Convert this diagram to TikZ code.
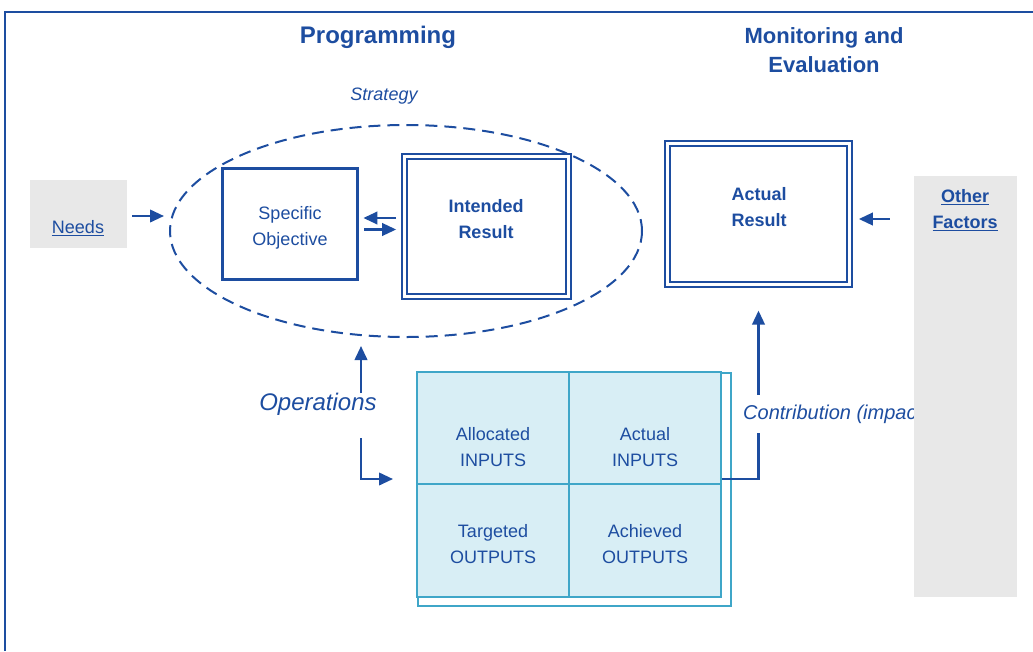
\documentclass[tikz,border=0pt]{standalone}
\usepackage{fontspec}
\setmainfont{Liberation Sans}
\usetikzlibrary{arrows.meta,shapes.geometric}
\definecolor{dblue}{HTML}{1D4DA0}
\definecolor{tblue}{HTML}{3FA6C8}
\definecolor{tfill}{HTML}{D8EEF5}
\definecolor{gfill}{HTML}{E8E8E8}
\begin{document}
\begin{tikzpicture}[x=1pt,y=-1pt,
  txt/.style={text=dblue, align=center, inner sep=0pt, font=\fontsize{18}{26}\selectfont},
  btxt/.style={txt, font=\fontsize{18}{26}\selectfont\bfseries},
  title/.style={txt, font=\fontsize{24}{29}\selectfont\bfseries},
  singlebox/.style={draw=dblue, line width=2.8pt, inner sep=0pt},
  doublebox/.style={draw=dblue, double=white, double distance=2.5pt, line width=2.2pt, inner sep=0pt},
  graybox/.style={fill=gfill, inner sep=0pt},
  cell/.style={draw=tblue, line width=1.2pt, fill=tfill, minimum width=152, inner sep=0pt},
  arr/.style={draw=dblue, line width=2.3pt, -{Triangle[length=14pt,width=12.5pt]}},
]
\useasboundingbox (0,0) rectangle (1033,651);
% frame
\draw[dblue, line width=2pt] (5,651) -- (5,12) -- (1033,12);
% titles
\node[title] (prog) at (378,37) {Programming};
\node[title, font=\fontsize{22}{29}\selectfont\bfseries] (mon) at (824,50.5) {Monitoring and\\Evaluation};
\node[txt, font=\fontsize{18}{22}\selectfont\itshape] (strat) at (384,96) {Strategy};
% strategy ellipse
\node[ellipse, draw=dblue, line width=2pt, dash pattern=on 12pt off 7pt,
      minimum width=472, minimum height=212, inner sep=0pt] (ell) at (406,231) {};
% needs
\node[graybox, minimum width=97, minimum height=68] (needsbox) at (78.5,214) {};
\node[txt] (needs) at (78,228) {\underline{Needs}};
% specific objective
\node[singlebox, fill=white, minimum width=135.5, minimum height=111.5] (so) at (290,224) {};
\node[txt] (sot) at (290,228) {Specific\\Objective};
% intended result
\node[doublebox, minimum width=164, minimum height=140] (ir) at (486.5,226.5) {};
\node[btxt] (irt) at (486,219.5) {Intended\\Result};
% actual result
\node[doublebox, minimum width=182, minimum height=141] (ar) at (758.5,214) {};
\node[btxt] (art) at (759,207) {Actual\\Result};
% arrows top row
\draw[arr, shorten >=5pt] ([shift={(5pt,-2pt)}]needsbox.east) -- ([yshift=-2pt]needsbox.east -| ell.west);
\draw[arr, shorten <=7.25pt, shorten >=4.25pt] ([yshift=8.5pt]ir.west) -- ([yshift=8.5pt]ir.west -| so.east);
\draw[arr, shorten <=5.25pt, shorten >=7.25pt] ([yshift=-5.5pt]so.east) -- ([yshift=-5.5pt]so.east -| ir.west);
% table
\node[draw=tblue, line width=2pt, fill=white, minimum width=313, minimum height=233, inner sep=0pt] (tbl) at (574.5,489.5) {};
\node[cell, minimum height=112] (c11) at (493,428) {};
\node[cell, minimum height=112] (c12) at (645,428) {};
\node[cell, minimum height=113] (c21) at (493,540.5) {};
\node[cell, minimum height=113] (c22) at (645,540.5) {};
\node[txt] (t11) at (493,447.5) {Allocated\\INPUTS};
\node[txt] (t12) at (645,447.5) {Actual\\INPUTS};
\node[txt] (t21) at (493,544) {Targeted\\OUTPUTS};
\node[txt] (t22) at (645,544) {Achieved\\OUTPUTS};
% operations
\coordinate (op1) at (361,393);
\coordinate (op2) at (361,438);
\coordinate (op3) at (393,479);
\draw[arr, shorten >=8pt] (op1) -- (op1 |- ell.south);
\draw[arr] (op2) |- (op3);
\node[txt, font=\fontsize{24}{28}\selectfont\itshape] (ops) at (318,404) {Operations};
% contribution
\coordinate (cst) at (722,479);
\draw[arr, shorten >=25pt] (cst) -| (ar.south);
\node[txt, anchor=west, fill=white, inner sep=2pt, minimum height=38pt,
      font=\fontsize{20}{24}\selectfont\itshape] (contr) at (741,414) {Contribution (impact)};
% other factors
\node[graybox, minimum width=103, minimum height=421] (of) at (965.5,386.5) {};
\node[btxt] (oft) at (965,210.5) {\underline{Other}\\\underline{Factors}};
\draw[arr, shorten <=24pt, shorten >=8.25pt] ([yshift=-5pt]ar.east -| of.west) -- ([yshift=-5pt]ar.east);
\end{tikzpicture}
\end{document}
